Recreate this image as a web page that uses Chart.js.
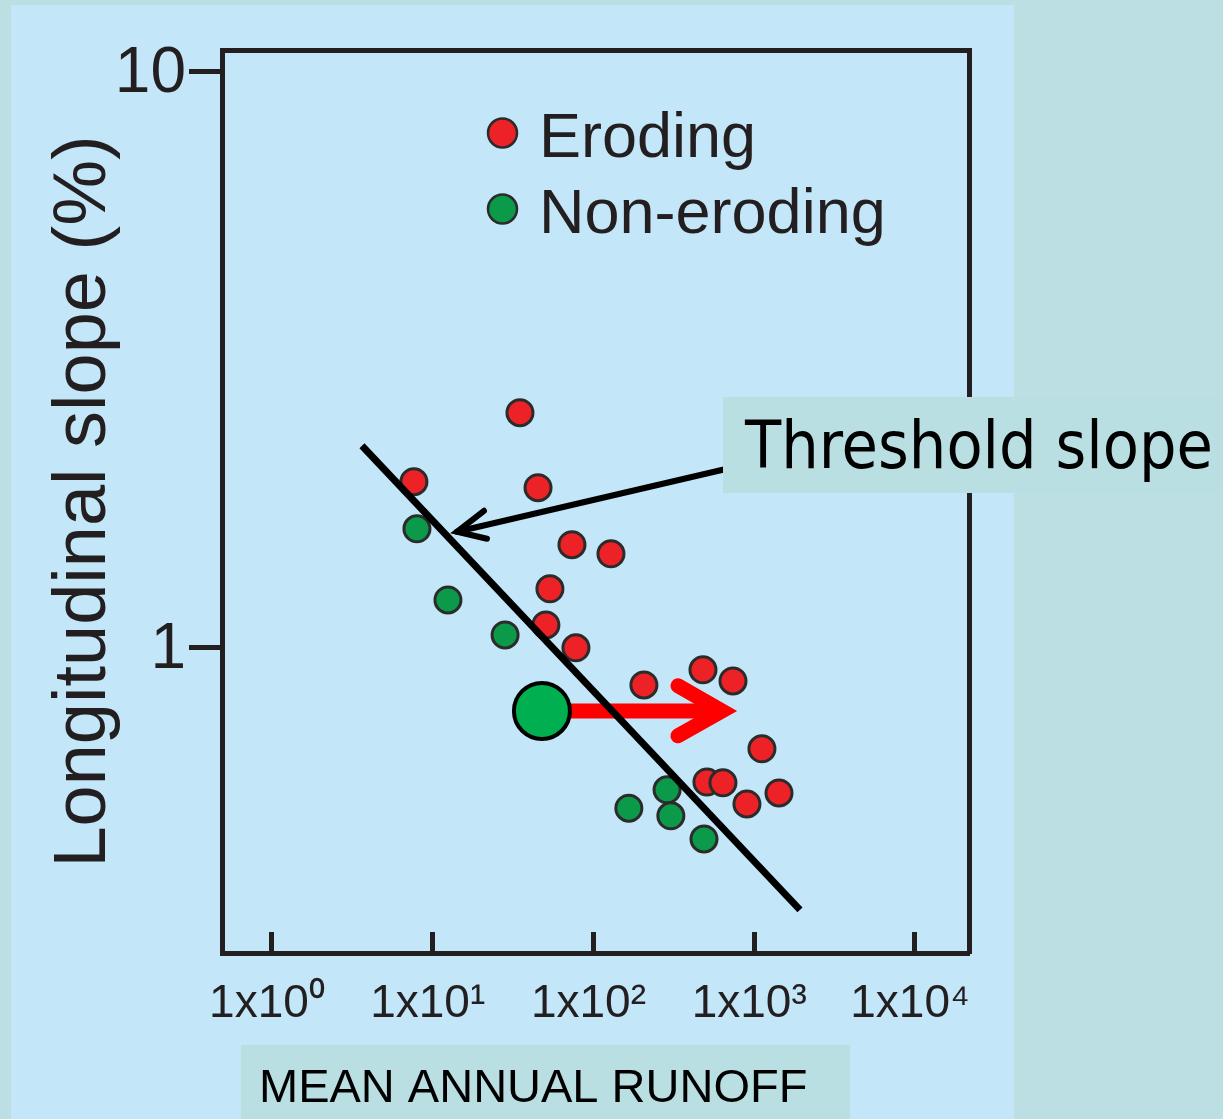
<!DOCTYPE html>
<html><head><meta charset="utf-8">
<script src="https://cdn.jsdelivr.net/npm/chart.js@4.4.1/dist/chart.umd.min.js"></script>
<style>
html,body{margin:0;padding:0;background:#bbdfe3;}
#wrap{position:relative;width:1223px;height:1119px;}
</style></head><body>
<div id="wrap"><canvas id="c"></canvas></div>
<script>
// ---- data ----
const xTickValues = [1, 10, 100, 1000, 10000];
const xTickLabels = ['1x10\u2070', '1x10\u00b9', '1x10\u00b2', '1x10\u00b3', '1x10\u2074'];
const yTickValues = [1, 10];
const yTickLabels = ['1', '10'];

const erodingX = [34.9, 7.64, 45.2, 73.5, 128.5, 53.6, 50.6, 77.8, 206, 480, 738, 1117, 508, 639, 901, 1426];
const erodingY = [2.559, 1.942, 1.896, 1.510, 1.456, 1.266, 1.096, 1.0, 0.862, 0.916, 0.876, 0.668, 0.585, 0.583, 0.536, 0.560];

const nonErodingX = [7.98, 12.44, 28.2, 287, 166, 303, 487];
const nonErodingY = [1.609, 1.211, 1.053, 0.567, 0.527, 0.511, 0.466];

const thresholdX = [3.63, 1926];
const thresholdY = [2.242, 0.351];

const pointerX = [815, 14.16];
const pointerY = [2.070, 1.590];
const pointerHeadX = [20.84, 14.16, 21.75];
const pointerHeadY = [1.729, 1.590, 1.546];

const shiftPointX = [47.8];
const shiftPointY = [0.777];
const shiftArrowX = [47.8, 630];
const shiftArrowY = [0.777, 0.777];
const shiftHeadX = [335.6, 630, 335.6];
const shiftHeadY = [0.859, 0.777, 0.7035];

const X_MIN = 0.489, X_MAX = 21680;
const Y_MIN = 0.2954, Y_MAX = 10.9;

// ---- styles ----
const INK = '#231f20';
const FONT = "'Liberation Sans', Arial, Helvetica, sans-serif";
const RED = '#ec2227';
const GREEN = '#0a9a49';
const OUTER = '#bbdfe3';
const PANEL = '#c3e7f9';
const BOX = '#b9dfe2';

function pts(xs, ys) { return xs.map((x, i) => ({x: x, y: ys[i]})); }

const decor = {
  id: 'decor',
  beforeDraw(chart) {
    const ctx = chart.ctx;
    ctx.save();
    ctx.fillStyle = OUTER;
    ctx.fillRect(0, 0, chart.width, chart.height);
    ctx.fillStyle = PANEL;
    ctx.fillRect(11, 5, 1003, chart.height - 5);
    ctx.restore();
  },
  afterDraw(chart) {
    const ctx = chart.ctx;
    ctx.save();
    // legend
    const items = [['Eroding', RED, 133], ['Non-eroding', GREEN, 209]];
    items.forEach(([txt, col, cy]) => {
      ctx.beginPath();
      ctx.arc(502.5, cy, 14.5, 0, Math.PI * 2);
      ctx.fillStyle = col;
      ctx.fill();
      ctx.lineWidth = 2.5;
      ctx.strokeStyle = '#2b2b2b';
      ctx.stroke();
      ctx.fillStyle = INK;
      ctx.font = '63px ' + FONT;
      ctx.textBaseline = 'alphabetic';
      ctx.textAlign = 'left';
      ctx.fillText(txt, 539, cy + 24);
    });
    // threshold label
    ctx.fillStyle = BOX;
    ctx.fillRect(723, 397, 500, 96);
    ctx.fillStyle = '#000';
    ctx.font = "66px 'DejaVu Sans Condensed', 'DejaVu Sans', sans-serif";
    ctx.textAlign = 'left';
    ctx.textBaseline = 'alphabetic';
    ctx.fillText('Threshold slope', 745, 468, 468);
    // x axis title
    ctx.fillStyle = BOX;
    ctx.fillRect(241, 1045, 609, 74);
    ctx.fillStyle = '#000';
    ctx.font = '47px ' + FONT;
    ctx.fillText('MEAN ANNUAL RUNOFF', 259, 1102);
    ctx.restore();
  }
};

new Chart(document.getElementById('c'), {
  type: 'scatter',
  data: {
    datasets: [
      {label: 'Threshold', data: pts(thresholdX, thresholdY), showLine: true, borderColor: '#000', backgroundColor: '#000',
       borderWidth: 7, pointRadius: 0, borderCapStyle: 'butt', tension: 0, order: 1},
      {label: 'Pointer', data: pts(pointerX, pointerY), showLine: true, borderColor: '#000', backgroundColor: '#000',
       borderWidth: 6, pointRadius: 0, borderCapStyle: 'round', tension: 0, order: 2},
      {label: 'PointerHead', data: pts(pointerHeadX, pointerHeadY), showLine: true, borderColor: '#000', backgroundColor: '#000',
       borderWidth: 6, pointRadius: 0, borderCapStyle: 'round', borderJoinStyle: 'miter', tension: 0, order: 2},
      {label: 'Shifted', data: pts(shiftPointX, shiftPointY), showLine: false, backgroundColor: '#00b050', borderColor: '#000',
       pointRadius: 28, pointBorderWidth: 4, order: 3},
      {label: 'ShiftArrow', data: pts(shiftArrowX, shiftArrowY), showLine: true, borderColor: '#ff0000', backgroundColor: '#ff0000',
       borderWidth: 15, pointRadius: 0, borderCapStyle: 'butt', tension: 0, order: 4},
      {label: 'ShiftHead', data: pts(shiftHeadX, shiftHeadY), showLine: true, borderColor: '#ff0000', backgroundColor: '#ff0000',
       borderWidth: 15, pointRadius: 0, borderCapStyle: 'round', borderJoinStyle: 'miter', tension: 0, order: 4},
      {label: 'Eroding', data: pts(erodingX, erodingY), showLine: false, backgroundColor: RED, borderColor: '#2b2b2b',
       pointRadius: 13, pointBorderWidth: 3, order: 5},
      {label: 'Non-eroding', data: pts(nonErodingX, nonErodingY), showLine: false, backgroundColor: GREEN, borderColor: '#2b2b2b',
       pointRadius: 13, pointBorderWidth: 3, order: 6}
    ]
  },
  options: {
    responsive: true, maintainAspectRatio: false, animation: false, events: [],
    layout: {padding: 0},
    plugins: {legend: {display: false}, tooltip: {enabled: false}, title: {display: false}},
    scales: {
      x: {
        type: 'logarithmic', position: 'bottom', min: X_MIN, max: X_MAX, bounds: 'data',
        afterBuildTicks(s) { s.ticks = xTickValues.map(v => ({value: v})); },
        afterFit(s) { s.height = 166; },
        ticks: {autoSkip: false, maxRotation: 0, minRotation: 0, padding: 45, labelOffset: -5, color: INK,
                font: {family: FONT, size: 46},
                callback: (v, i) => xTickLabels[i]},
        grid: {display: true, drawOnChartArea: false, drawTicks: true, tickLength: -21, tickWidth: 5, tickColor: INK},
        border: {display: true, width: 5, color: INK}
      },
      y: {
        type: 'logarithmic', position: 'left', min: Y_MIN, max: Y_MAX, bounds: 'data',
        afterBuildTicks(s) { s.ticks = yTickValues.map(v => ({value: v})); },
        afterFit(s) { s.width = 222; },
        ticks: {autoSkip: false, padding: 3, labelOffset: 3, color: INK, font: {family: FONT, size: 64},
                callback: (v, i) => yTickLabels[i]},
        grid: {display: true, drawOnChartArea: false, drawTicks: true, tickLength: 33, tickWidth: 5, tickColor: INK},
        border: {display: true, width: 5, color: INK},
        title: {display: true, text: 'Longitudinal slope (%)', color: INK, font: {family: FONT, size: 74},
                padding: {top: 40, bottom: 0}}
      },
      x2: {
        type: 'logarithmic', position: 'top', min: X_MIN, max: X_MAX,
        afterFit(s) { s.height = 50; },
        ticks: {display: false}, grid: {display: false},
        border: {display: true, width: 5, color: INK}
      },
      y2: {
        type: 'logarithmic', position: 'right', min: Y_MIN, max: Y_MAX,
        afterFit(s) { s.width = 254; },
        ticks: {display: false}, grid: {display: false},
        border: {display: true, width: 5, color: INK}
      }
    }
  },
  plugins: [decor]
});
</script>
</body></html>
